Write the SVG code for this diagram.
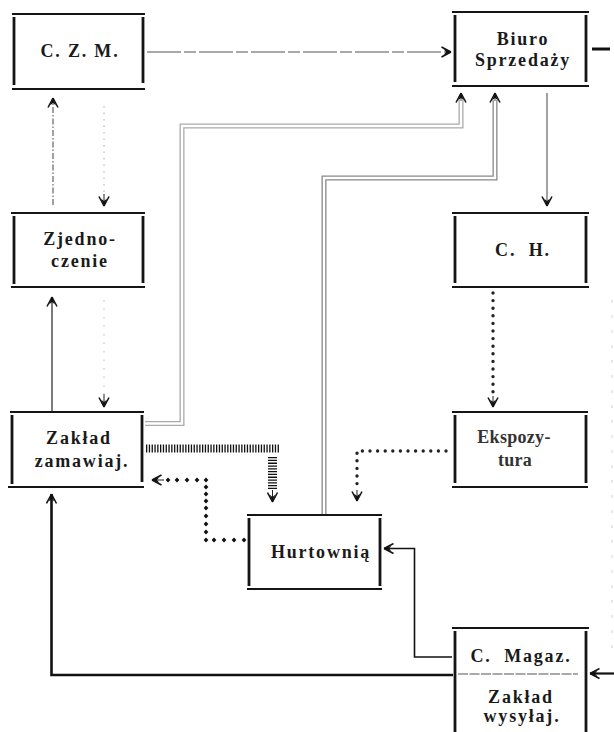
<svg xmlns="http://www.w3.org/2000/svg" width="614" height="732" viewBox="0 0 614 732">
<style>
.hb{stroke:#151515;stroke-width:2.2;fill:none}
.vb{stroke:#151515;stroke-width:2.8;fill:none}
.t{font-family:"Liberation Serif","Times New Roman",serif;font-weight:bold;font-size:18px;letter-spacing:1.8px;fill:#1a1a1a;text-anchor:middle}
.tn{fill:#333;letter-spacing:0.3px}
.thin{fill:none;stroke:#555;stroke-width:1.1}
.dbl{fill:none;stroke-width:5}
.dblin{fill:none;stroke:#fff;stroke-width:2.4}
.dots{fill:none;stroke:#222;stroke-width:3.4;stroke-linecap:round;stroke-dasharray:0 7.6}
.hatch{fill:none;stroke:#111;stroke-dasharray:1.3 1.5}
.solid{fill:none;stroke:#111}
</style>
<defs>
<marker id="ah" viewBox="0 0 12 12" refX="11" refY="6" markerWidth="12" markerHeight="12" markerUnits="userSpaceOnUse" orient="auto">
<path d="M11,6 L1.5,1 M11,6 L1.5,11" stroke="#111" stroke-width="1.5" fill="none"/>
<path d="M11,6 L3.5,3 L6,6 L3.5,9 Z" fill="#111"/>
</marker>
<path id="dm" d="M0,-2.4 L2.4,0 L0,2.4 L-2.4,0 Z" fill="#111"/>
</defs>

<g id="connectors">
<!-- C.Z.M. -> Biuro -->
<path class="thin" d="M147,52 H451" stroke-dasharray="34 3 12 3" marker-end="url(#ah)"/>
<!-- Zjednoczenie -> C.Z.M. -->
<path class="thin" d="M53,205 V98" stroke-dasharray="6 2 1.5 2" marker-end="url(#ah)"/>
<!-- C.Z.M. -> Zjednoczenie -->
<path d="M104,106 V194" fill="none" stroke="#aaa" stroke-width="1" stroke-dasharray="1.5 5"/>
<path d="M104,194 V206" fill="none" stroke="#222" stroke-width="1" marker-end="url(#ah)"/>
<!-- Zakład -> Zjednoczenie -->
<path d="M52,411 V297" fill="none" stroke="#333" stroke-width="1.3" marker-end="url(#ah)"/>
<!-- Zjednoczenie -> Zakład -->
<path d="M104,300 V394" fill="none" stroke="#bbb" stroke-width="1" stroke-dasharray="1.5 7"/>
<path d="M104,394 V407" fill="none" stroke="#222" stroke-width="1" marker-end="url(#ah)"/>
<!-- Zakład -> Biuro (double) -->
<path class="dbl" stroke="#aaa" d="M145,423.5 H182 V126 H461 V100"/>
<path class="dblin" d="M144,423.5 H182 V126 H461 V99"/>
<path d="M461,101 V93" fill="none" stroke="#555" stroke-width="1" marker-end="url(#ah)"/>
<!-- Hurtownia -> Biuro (double) -->
<path class="dbl" stroke="#888" d="M324,514 V178 H495 V100"/>
<path class="dblin" d="M324,515 V178 H495 V99"/>
<path d="M495,101 V93" fill="none" stroke="#555" stroke-width="1" marker-end="url(#ah)"/>
<!-- Biuro -> C.H. -->
<path d="M547,93 V206" fill="none" stroke="#444" stroke-width="1" marker-end="url(#ah)"/>
<!-- C.H. -> Ekspozytura -->
<path class="dots" d="M493,293 V398"/>
<path d="M493,396 V407" fill="none" stroke="#222" stroke-width="1" marker-end="url(#ah)"/>
<!-- Ekspozytura -> Hurtownia -->
<path class="dots" d="M446,451 H357 V490"/>
<path d="M357,490 V501" fill="none" stroke="#222" stroke-width="1" marker-end="url(#ah)"/>
<!-- Zakład -> Hurtownia (hatched) -->
<path class="hatch" stroke-width="8" d="M146,448.5 H279"/>
<path class="hatch" stroke-width="9" d="M272.5,457 V489"/>
<path d="M272.5,490 V502" fill="none" stroke="#222" stroke-width="1" marker-end="url(#ah)"/>
<!-- Hurtownia -> Zakład (diamonds) -->
<g id="diamonds">
<use href="#dm" x="244" y="540"/><use href="#dm" x="234" y="540"/><use href="#dm" x="224" y="540"/><use href="#dm" x="214" y="540"/>
<use href="#dm" x="206" y="540"/><use href="#dm" x="206" y="532"/><use href="#dm" x="206" y="524"/><use href="#dm" x="206" y="516"/><use href="#dm" x="206" y="508"/><use href="#dm" x="206" y="501"/><use href="#dm" x="206" y="494"/><use href="#dm" x="206" y="487"/><use href="#dm" x="206" y="480"/>
<use href="#dm" x="197" y="480"/><use href="#dm" x="187" y="480"/><use href="#dm" x="177" y="480"/><use href="#dm" x="168" y="480"/>
</g>
<path d="M164,480 H152" fill="none" stroke="#222" stroke-width="1" marker-end="url(#ah)"/>
<!-- C.Magaz -> Hurtownia -->
<path class="solid" stroke-width="1.6" d="M452,657 H414.5 V548.5 H384" marker-end="url(#ah)"/>
<!-- C.Magaz -> Zakład -->
<path class="solid" stroke-width="2.6" d="M453,675 H51.5 V494" marker-end="url(#ah)"/>
<!-- right margin -->
<path d="M592,49 H610" stroke="#111" stroke-width="3"/>
<path d="M612,300 V660" fill="none" stroke="#d4d4d4" stroke-width="1" stroke-dasharray="3 12"/>
<path d="M614,673.5 H590" fill="none" stroke="#111" stroke-width="2.2" marker-end="url(#ah)"/>
</g>

<g id="czm">
<path class="hb" d="M12,14 H145 M12,89 H145"/>
<path class="vb" d="M14,17 V85 M143,17 V83"/>
<text class="t" x="80" y="57" letter-spacing="1.5">C. Z. M.</text>
</g>
<g id="biuro">
<path class="hb" d="M452,12 H589 M452,86 H589"/>
<path class="vb" d="M455,15 V82 M586,15 V82"/>
<text class="t" x="523" y="45">Biuro</text>
<text class="t" x="523" y="66">Sprzedaży</text>
</g>
<g id="zjednoczenie">
<path class="hb" d="M11,213 H145 M11,287 H145"/>
<path class="vb" d="M14,216 V284 M143,216 V283"/>
<text class="t" x="80" y="245">Zjedno-</text>
<text class="t" x="80" y="267">czenie</text>
</g>
<g id="ch">
<path class="hb" d="M452,213 H589 M452,287 H589"/>
<path class="vb" d="M455,216 V283 M586,216 V283"/>
<text class="t" x="523" y="256" letter-spacing="1" xml:space="preserve">C.  H.</text>
</g>
<g id="zaklad-zam">
<path class="hb" d="M10,412 H144 M8,487 H144"/>
<path class="vb" d="M12,415 V484 M142,415 V482"/>
<text class="t" x="79" y="444">Zakład</text>
<text class="t" x="82" y="467" letter-spacing="1.5">zamawiaj.</text>
</g>
<g id="ekspozytura">
<path class="hb" d="M452,412 H588 M452,487 H588"/>
<path class="vb" d="M455,415 V483 M586,415 V483"/>
<text class="t tn" x="514" y="443">Ekspozy-</text>
<text class="t tn" x="515" y="466">tura</text>
</g>
<g id="hurtownia">
<path class="hb" d="M247,515 H382 M247,589 H382"/>
<path class="vb" d="M249,518 V586 M380,518 V586"/>
<text class="t" x="321" y="558">Hurtownią</text>
</g>
<g id="cmagaz">
<path class="hb" d="M452,628 H589"/>
<path class="vb" d="M455,631 V732 M586,631 V732"/>
<path d="M458,674 H578" stroke="#555" stroke-width="1" stroke-dasharray="10 1.5"/>
<text class="t" x="521" y="662" xml:space="preserve">C.  Magaz.</text>
<text class="t" x="521" y="703">Zakład</text>
<text class="t" x="522" y="722">wysyłaj.</text>
</g>
</svg>
